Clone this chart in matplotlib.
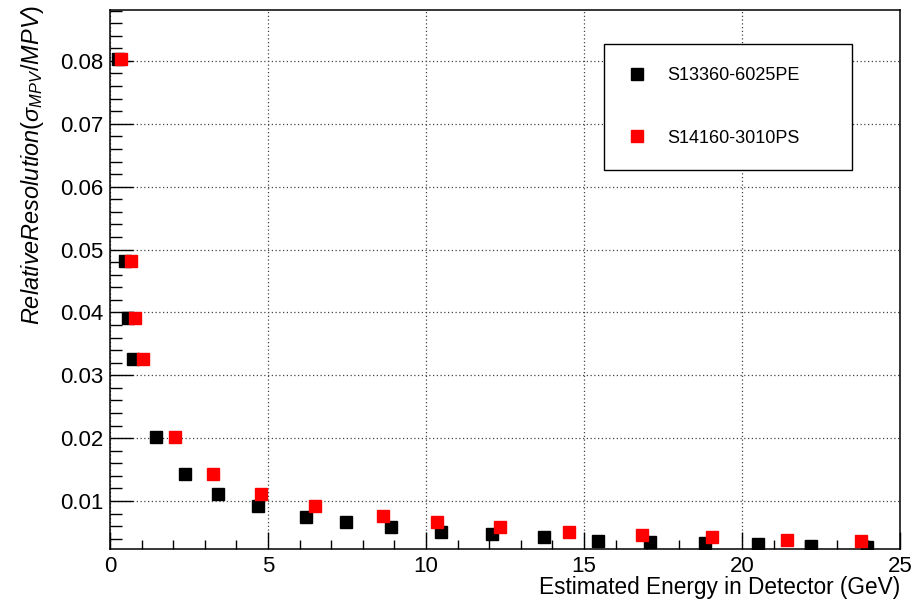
import matplotlib
matplotlib.use("Agg")
import matplotlib.pyplot as plt
from matplotlib.ticker import MultipleLocator, FormatStrFormatter
from matplotlib.lines import Line2D

plt.rcParams['font.family'] = ['Liberation Sans', 'DejaVu Sans']
plt.rcParams['mathtext.fontset'] = 'custom'
plt.rcParams['mathtext.it'] = 'Liberation Sans:italic'
plt.rcParams['mathtext.rm'] = 'Liberation Sans'
plt.rcParams['mathtext.sf'] = 'Liberation Sans'

# Energy (GeV) and relative resolution for each SiPM
labels = ["S13360-6025PE", "S14160-3010PS"]
colors = ["#000000", "#ff0000"]

energy_6025 = [0.25, 0.47, 0.58, 0.74, 1.46, 2.36, 3.43, 4.68, 6.20, 7.46,
               8.89, 10.46, 12.10, 13.73, 15.43, 17.10, 18.84, 20.50, 22.18, 23.95]
resol_6025 = [0.0803, 0.0481, 0.0391, 0.0326, 0.0201, 0.0143, 0.0111, 0.0092, 0.0075, 0.0067,
              0.0058, 0.0051, 0.0047, 0.0042, 0.0037, 0.0035, 0.0033, 0.0031, 0.0029, 0.0027]

energy_3010 = [0.35, 0.66, 0.79, 1.03, 2.05, 3.25, 4.78, 6.49, 8.63, 10.36,
               12.34, 14.54, 16.83, 19.06, 21.43, 23.76]
resol_3010 = [0.0803, 0.0481, 0.0391, 0.0326, 0.0201, 0.0143, 0.0111, 0.0092, 0.0076, 0.0067,
              0.0058, 0.0051, 0.0046, 0.0042, 0.0038, 0.0036]

W, H = 918, 599
fig = plt.figure(figsize=(W / 100, H / 100), dpi=100)
ax = fig.add_axes([110 / W, 1 - 549 / H, 790 / W, 539 / H])

ms = 8
ax.plot(energy_6025, resol_6025, ls='none', marker='s', ms=ms, color=colors[0],
        mec=colors[0], zorder=3)
ax.plot(energy_3010, resol_3010, ls='none', marker='s', ms=ms, color=colors[1],
        mec=colors[1], zorder=4)

ax.set_xlim(0, 25)
ax.set_ylim(0.00236, 0.0881)

ax.xaxis.set_major_locator(MultipleLocator(5))
ax.xaxis.set_minor_locator(MultipleLocator(1))
ax.yaxis.set_major_locator(MultipleLocator(0.01))
ax.yaxis.set_minor_locator(MultipleLocator(0.002))
ax.yaxis.set_major_formatter(FormatStrFormatter('%.2f'))
ax.xaxis.set_major_formatter(FormatStrFormatter('%d'))

ax.tick_params(axis='both', which='both', direction='in', top=False, right=False,
               width=1.0, colors='black', labelsize=16)
ax.tick_params(axis='y', which='major', length=16.3, pad=5)
ax.tick_params(axis='y', which='minor', length=8.6)
ax.tick_params(axis='x', which='major', length=12, pad=5)
ax.tick_params(axis='x', which='minor', length=6.7)

for s in ax.spines.values():
    s.set_linewidth(1.1)
    s.set_color('black')

ax.grid(True, which='major', color='#444444', linestyle=(0, (1, 2.0)), linewidth=0.9)
ax.set_axisbelow(True)

fig.text(900 / W, 1 - 594 / H, "Estimated Energy in Detector (GeV)", ha='right',
         va='baseline', fontsize=16.3)
fig.text(33 / W, 1 - 5 / H, r"$RelativeResolution(\sigma_{MPV}/MPV)$", rotation=90,
         ha='center', va='top', fontsize=16.9)

handles = [Line2D([], [], ls='none', marker='s', ms=ms, color=c, mec=c) for c in colors]
leg = ax.legend(handles, labels, loc='upper left',
                bbox_to_anchor=(604 / W, 1 - 178 / H, 248 / W, 134 / H),
                bbox_transform=fig.transFigure, mode='expand', borderaxespad=0,
                fontsize=13, borderpad=1.3, labelspacing=2.5, handlelength=1.0,
                handletextpad=1.2, numpoints=1, fancybox=False, shadow=False,
                framealpha=1, edgecolor='black')
leg.get_frame().set_linewidth(1.0)

fig.savefig("out.png", dpi=100)
